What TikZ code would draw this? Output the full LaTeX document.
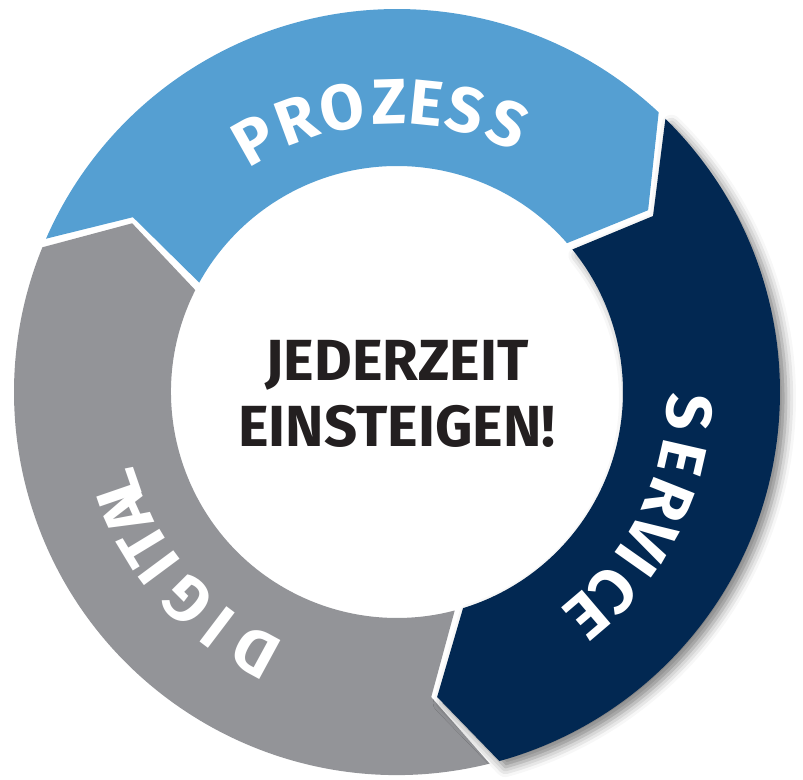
\documentclass[tikz,border=0pt]{standalone}
\usepackage{fontspec}
\setmainfont{Fira Sans}
\usetikzlibrary{shadows.blur}
\definecolor{procblue}{HTML}{559FD2}
\definecolor{servnavy}{HTML}{022852}
\definecolor{diggray}{HTML}{939498}
\definecolor{txtblack}{HTML}{231F20}
\tikzset{
  %letters set round the ring
  ringletter/.style={
    text=white
    , font=\fontsize{64}{64}\selectfont\bfseries
    , inner sep=0pt
    , anchor=center
  },
  %slogan in the white middle
  motto/.style={
    text=txtblack
    , font=\fontsize{58}{66}\selectfont\bfseries
    , align=center
    , inner sep=0pt
  },
}

\begin{document}
\begin{tikzpicture}[x=1pt, y=1pt]
  \tikzstyle{navyshadow}=[blur shadow={shadow xshift=6pt, shadow yshift=-6pt
                                     , shadow blur radius=10pt, shadow opacity=50}]
  \useasboundingbox (-397,392) rectangle (406,-387);

  % ring parts, radii 383 (outer) and 226 (inner)
  \coordinate (pro-tip)  at (35.9:310);
  \coordinate (pro-ntch) at (146.5:316.7);
  \coordinate (srv-tip)  at (-82.5:307.6);
  \coordinate (srv-ntch) at (34.5:310.7);
  \coordinate (dig-tip)  at (-212.5:314);
  \coordinate (dig-ntch) at (-83.6:307);

  \fill [procblue] (156.4:383) arc [start angle=156.4, end angle=46.9, radius=383]
    -- (pro-tip) -- (41.2:226) arc [start angle=41.2, end angle=151.05, radius=226]
    -- (pro-ntch) -- cycle;

  \fill [diggray] (-76:383) arc [start angle=-76, end angle=-202.2, radius=383]
    -- (dig-tip) -- (-206.8:226) arc [start angle=-206.8, end angle=-75.2, radius=226]
    -- (dig-ntch) -- cycle;

  \fill [servnavy, navyshadow] (45.5:383) arc [start angle=45.5, end angle=-74.5, radius=383]
    -- (srv-tip) -- (-73:226) arc [start angle=-73, end angle=39.1, radius=226]
    -- (srv-ntch) -- cycle;

  % words on the ring
  \foreach \ang/\ch [count=\i] in {119.4/P,110.2/R,101/O,91.6/Z,84.2/E,76.4/S,67.6/S}
    \node [ringletter, rotate=\ang-90] (pro\i) at (\ang:290) {\ch};
  \foreach \ang/\ch [count=\i] in {-3.9/S,-12.9/E,-21.7/R,-29.8/V,-35.2/I,-42.5/C,-49.6/E}
    \node [ringletter, rotate=\ang-90] (srv\i) at (\ang:293) {\ch};
  \foreach \ang/\ch [count=\i] in {-118.5/D,-127.2/I,-135.1/G,-143.4/I,-148.8/T,-155.8/A,-161/L}
    \node [ringletter, rotate=\ang-90] (dig\i) at (\ang:296) {\ch};

  \node [motto] (slogan) at (0,-2) {JEDERZEIT\\EINSTEIGEN!};
\end{tikzpicture}
\end{document}
